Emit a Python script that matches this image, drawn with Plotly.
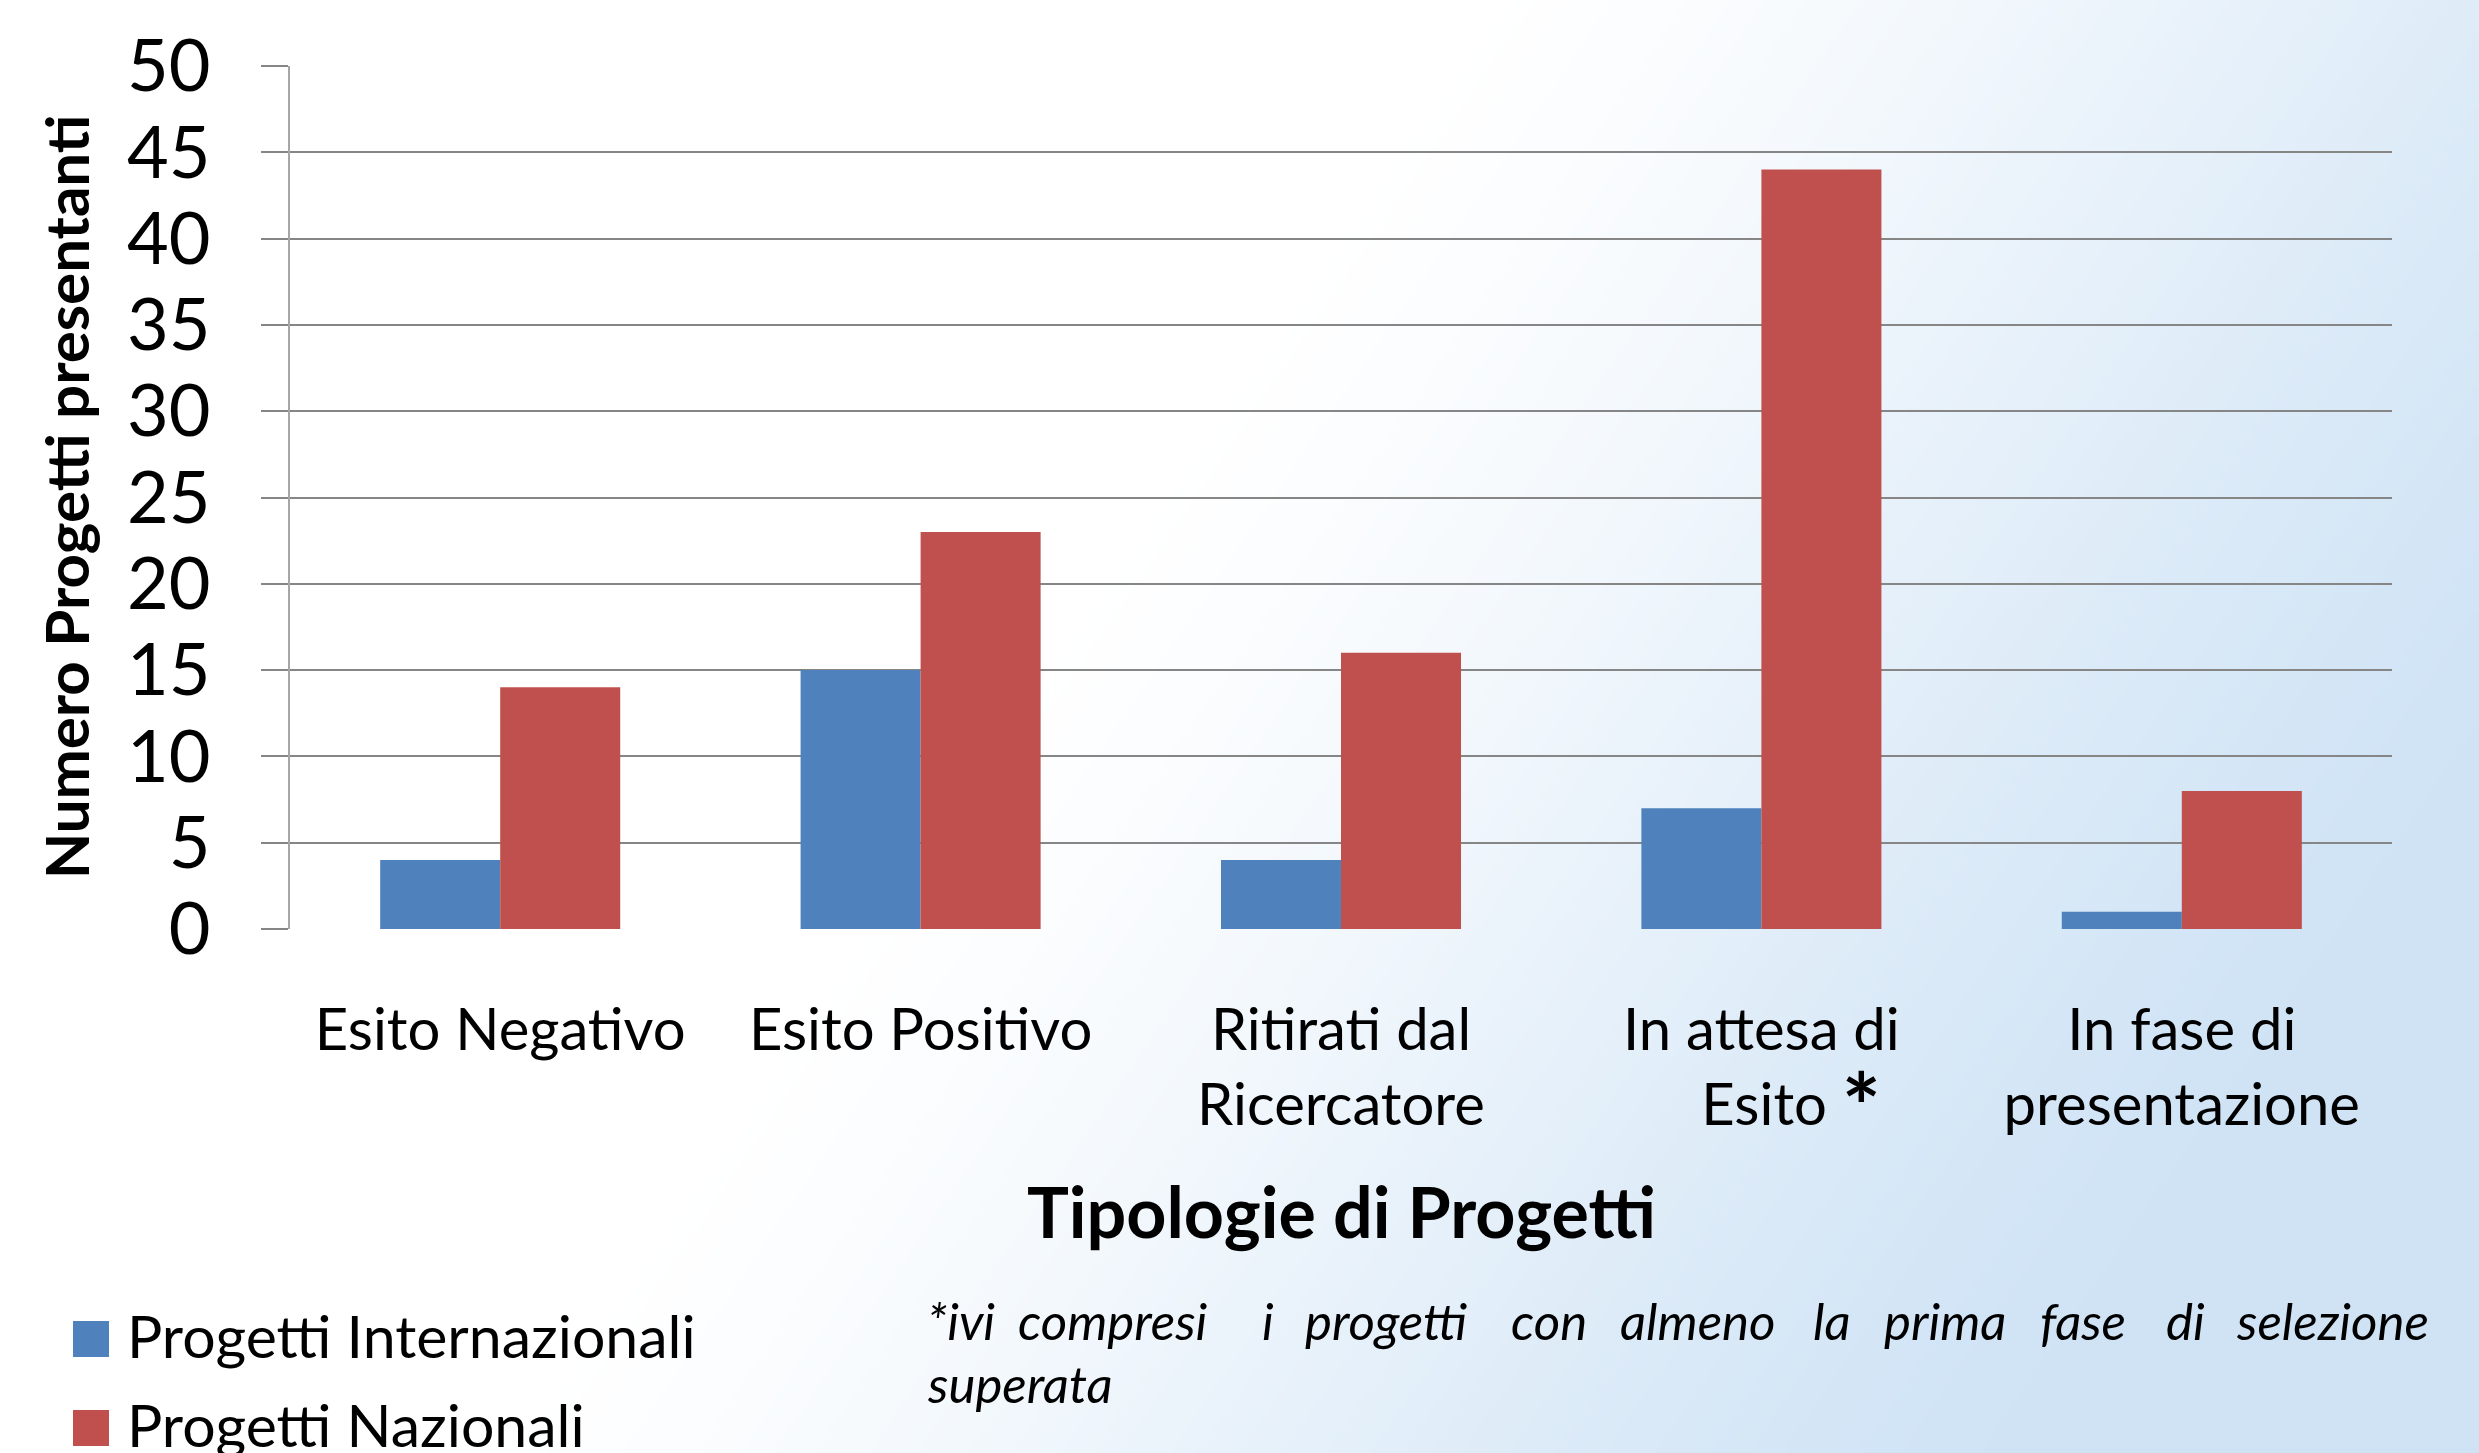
import base64
import struct
import zlib

import numpy as np
import plotly.graph_objects as go

# ---------------- data ----------------
categories = [
    "Esito Negativo",
    "Esito Positivo",
    "Ritirati dal Ricercatore",
    "In attesa di Esito*",
    "In fase di presentazione",
]
tick_labels = [
    "Esito Negativo",
    "Esito Positivo",
    "Ritirati dal<br>Ricercatore",
    "In attesa di<br>&nbsp;&nbsp;&nbsp;&nbsp;Esito&nbsp;<span style='font-size:92px;baseline-shift:-16px'><b>*</b></span>",
    "In fase di<br>presentazione",
]
series_names = ["Progetti Internazionali", "Progetti Nazionali"]
progetti_internazionali = [4, 15, 4, 7, 1]
progetti_nazionali = [14, 23, 16, 44, 8]
y_tick_values = [0, 5, 10, 15, 20, 25, 30, 35, 40, 45, 50]

x_title = "Tipologie di Progetti"
y_title = "Numero Progetti presentanti"
footnote_line1 = "*ivi compresi i progetti con almeno la prima fase di selezione"
footnote_line2 = "superata"

# ---------------- style / layout ----------------
W, H = 2479, 1453
ML, MR, MT, MB = 290, 87, 66, 524
PW, PH = W - ML - MR, H - MT - MB
BLUE = "#4f81bd"
RED = "#c0504d"
GRID = "#868686"
FONT = "Lato"


def px_x(x):
    return (x - ML) / PW


def px_y(y):
    return (H - MB - y) / PH


# background gradient image (white -> light blue, diagonal)
def make_png(arr):
    h, w, _ = arr.shape
    raw = b"".join(b"\x00" + arr[j].tobytes() for j in range(h))

    def chunk(tag, data):
        c = struct.pack(">I", len(data)) + tag + data
        return c + struct.pack(">I", zlib.crc32(tag + data) & 0xFFFFFFFF)

    ihdr = struct.pack(">IIBBBBB", w, h, 8, 2, 0, 0, 0)
    return (b"\x89PNG\r\n\x1a\n" + chunk(b"IHDR", ihdr)
            + chunk(b"IDAT", zlib.compress(raw, 9)) + chunk(b"IEND", b""))


gw, gh = 496, 291
u = (np.arange(gw) + 0.5) / gw
v = (np.arange(gh) + 0.5) / gh
U, V = np.meshgrid(u, v)
s = U + 0.4 * V
t = np.clip((s - 0.6) / 0.62, 0, 1)
t = 0.5 * t + 0.5 * (t * t * (3 - 2 * t))
c0 = np.array([255, 255, 255], dtype=float)
c1 = np.array([207, 227, 245], dtype=float)
img = (c0[None, None, :] * (1 - t[..., None]) + c1[None, None, :] * t[..., None]).round().astype(np.uint8)
bg_src = "data:image/png;base64," + base64.b64encode(make_png(img)).decode()

fig = go.Figure()
fig.add_trace(go.Bar(x=categories, y=progetti_internazionali, name=series_names[0],
                     marker=dict(color=BLUE, line=dict(width=0)), showlegend=False))
fig.add_trace(go.Bar(x=categories, y=progetti_nazionali, name=series_names[1],
                     marker=dict(color=RED, line=dict(width=0)), showlegend=False))

annotations = []
# axis titles
annotations.append(dict(text="<b>%s</b>" % y_title, xref="paper", yref="paper",
                        x=px_x(66), y=px_y(497), textangle=-90, showarrow=False,
                        xanchor="center", yanchor="middle",
                        font=dict(family=FONT, size=60, color="black")))
annotations.append(dict(text="<b>%s</b>" % x_title, xref="paper", yref="paper",
                        x=px_x(1341), y=px_y(1211), showarrow=False,
                        xanchor="center", yanchor="middle",
                        font=dict(family=FONT, size=70, color="black")))

# manual legend
shapes = []
legend_rows = [(1321, BLUE), (1410, RED)]
for (top, col), name in zip(legend_rows, series_names):
    shapes.append(dict(type="rect", xref="paper", yref="paper",
                       x0=px_x(73), x1=px_x(109), y0=px_y(top + 36), y1=px_y(top),
                       fillcolor=col, line=dict(width=0), layer="above"))
    annotations.append(dict(text=name, xref="paper", yref="paper",
                            x=px_x(125), y=px_y(top + 36 - 22), showarrow=False,
                            xanchor="left", yanchor="middle",
                            font=dict(family=FONT, size=59, color="black")))

# footnote (justified line 1)
word_starts = [925, 1016, 1260, 1303, 1509, 1618, 1811, 1882, 2038, 2164, 2234]
for word, xs in zip(footnote_line1.split(" "), word_starts):
    annotations.append(dict(text="<i>%s</i>" % word, xref="paper", yref="paper",
                            x=px_x(xs), y=px_y(1320), showarrow=False,
                            xanchor="left", yanchor="middle",
                            font=dict(family=FONT, size=51, color="black")))
annotations.append(dict(text="<i>%s</i>" % footnote_line2, xref="paper", yref="paper",
                        x=px_x(925), y=px_y(1383), showarrow=False,
                        xanchor="left", yanchor="middle",
                        font=dict(family=FONT, size=51, color="black")))

fig.update_layout(
    width=W, height=H,
    margin=dict(l=ML, r=MR, t=MT, b=MB, pad=0),
    paper_bgcolor="white",
    plot_bgcolor="rgba(0,0,0,0)",
    barmode="group",
    bargap=0.429,
    bargroupgap=0,
    font=dict(family=FONT, color="black"),
    annotations=annotations,
    shapes=shapes,
    images=[dict(source=bg_src, xref="paper", yref="paper",
                 x=px_x(0), y=px_y(0), sizex=W / PW, sizey=H / PH,
                 sizing="stretch", xanchor="left", yanchor="top", layer="below")],
    xaxis=dict(
        tickmode="array", tickvals=categories, ticktext=tick_labels,
        tickfont=dict(family=FONT, size=58, color="black"),
        showgrid=False, showline=False, ticks="", zeroline=False,
        ticklabelstandoff=62,
    ),
    yaxis=dict(
        range=[0, 50], tickmode="array", tickvals=y_tick_values,
        tickfont=dict(family=FONT, size=72, color="black"),
        showgrid=True, gridcolor=GRID, gridwidth=2,
        showline=True, linecolor="#a6a6a6", linewidth=2,
        ticks="outside", ticklen=27, tickwidth=2, tickcolor=GRID,
        zeroline=False, ticklabelstandoff=36,
    ),
)

fig.write_html("out.html",
               config={"displayModeBar": False},
               post_script="document.body.style.margin='0';document.body.style.overflow='hidden';")
